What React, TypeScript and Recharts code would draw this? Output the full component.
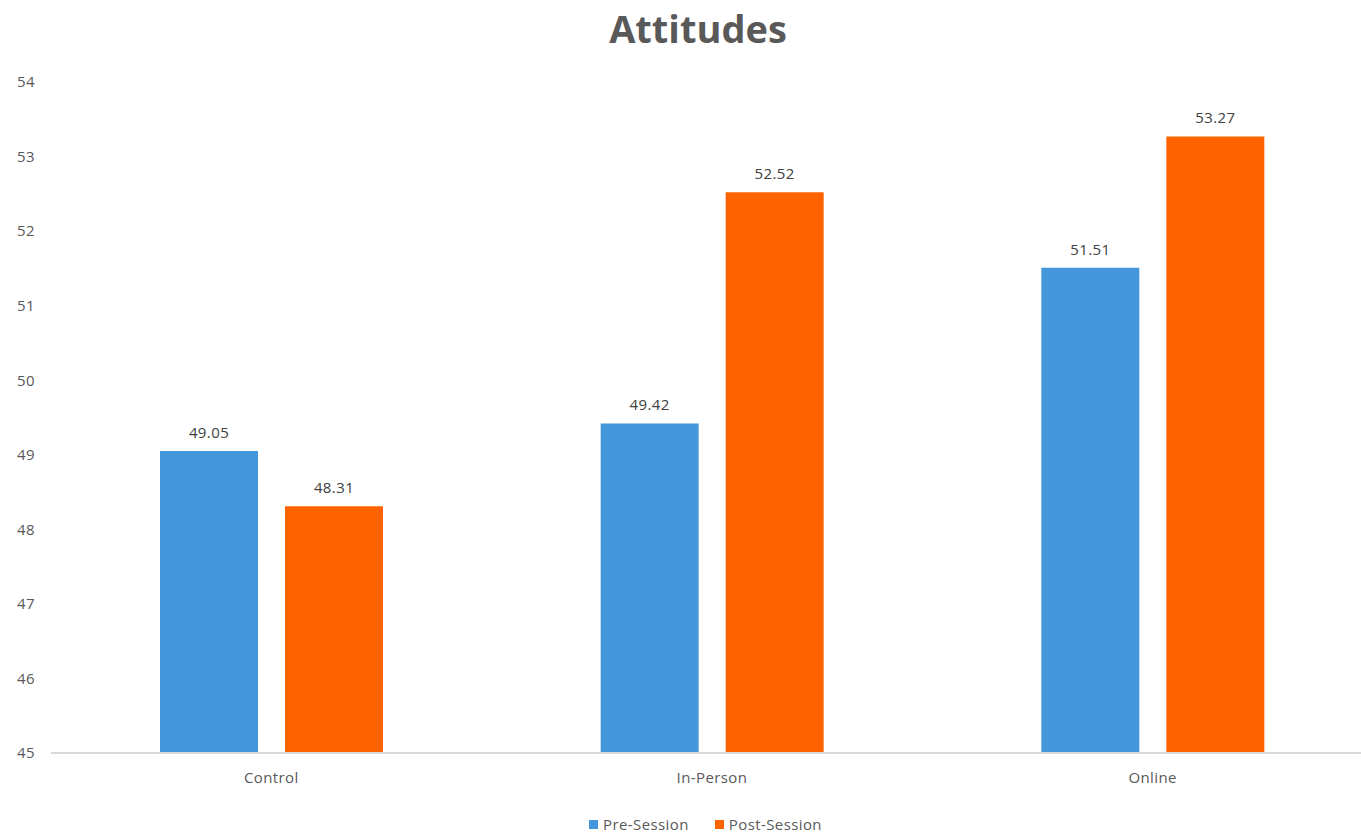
import React from "react";
import { BarChart, Bar, XAxis, YAxis, Legend, LabelList } from "recharts";

const TEXT_COLOR = "#595959";
const LABEL_COLOR = "#404040";
const AXIS_LINE_COLOR = "#d9d9d9";
const FONT = "'Open Sans', sans-serif";

const groups = ["Control", "In-Person", "Online"];
const preSession = [49.05, 49.42, 51.51];
const postSession = [48.31, 52.52, 53.27];
const yTicks = [45, 46, 47, 48, 49, 50, 51, 52, 53, 54];

const seriesNames = ["Pre-Session", "Post-Session"];
const seriesColors = ["#4397da", "#ff6300"];

const data = groups.map((group, i) => ({
    group,
    pre: preSession[i],
    post: postSession[i],
}));

const textStyle = { fill: TEXT_COLOR, fontSize: 15, fontFamily: FONT, letterSpacing: 0.4 };

const LegendContent: React.FC = () => (
    <div
        style={{
            display: "flex",
            justifyContent: "center",
            alignItems: "center",
            height: 18,
            fontFamily: FONT,
            fontSize: 15,
            letterSpacing: 0.4,
            color: TEXT_COLOR,
            paddingLeft: 50,
        }}
    >
        {seriesNames.map((name, i) => (
            <span key={name} style={{ display: "flex", alignItems: "center", marginLeft: i ? 26 : 0 }}>
                <span style={{ width: 9, height: 9, background: seriesColors[i], marginRight: 5 }} />
                {name}
            </span>
        ))}
    </div>
);

export default function App() {
    return (
        <div
            style={{
                position: "absolute",
                left: 0,
                top: 0,
                width: 1361,
                height: 833,
                overflow: "hidden",
                background: "#fff",
            }}
        >
            <div
                style={{
                    position: "absolute",
                    left: 0,
                    top: 2,
                    width: 1396,
                    textAlign: "center",
                    fontFamily: FONT,
                    fontWeight: 700,
                    fontSize: 38,
                    color: TEXT_COLOR,
                }}
            >
                Attitudes
            </div>
            <BarChart
                width={1373}
                height={833}
                data={data}
                margin={{ top: 82, right: 0, left: 0, bottom: 32 }}
                barSize={98}
                barGap={27}
            >
                <XAxis
                    dataKey="group"
                    height={30}
                    tickLine={false}
                    tickSize={6}
                    tickMargin={13}
                    axisLine={{ stroke: AXIS_LINE_COLOR, strokeWidth: 2 }}
                    tick={textStyle}
                />
                <YAxis
                    width={51}
                    domain={[45, 54]}
                    ticks={yTicks}
                    interval={0}
                    axisLine={false}
                    tickLine={false}
                    tickSize={6}
                    tickMargin={10}
                    tick={textStyle}
                />
                <Legend
                    verticalAlign="bottom"
                    content={<LegendContent />}
                    wrapperStyle={{ left: 0, bottom: 0, width: 1361, height: 18 }}
                />
                <Bar dataKey="pre" name={seriesNames[0]} fill={seriesColors[0]} isAnimationActive={false}>
                    <LabelList
                        dataKey="pre"
                        position="top"
                        offset={13}
                        fill={LABEL_COLOR}
                        fontSize={15}
                        fontFamily={FONT}
                        letterSpacing={0.4}
                    />
                </Bar>
                <Bar dataKey="post" name={seriesNames[1]} fill={seriesColors[1]} isAnimationActive={false}>
                    <LabelList
                        dataKey="post"
                        position="top"
                        offset={13}
                        fill={LABEL_COLOR}
                        fontSize={15}
                        fontFamily={FONT}
                        letterSpacing={0.4}
                    />
                </Bar>
            </BarChart>
        </div>
    );
}
